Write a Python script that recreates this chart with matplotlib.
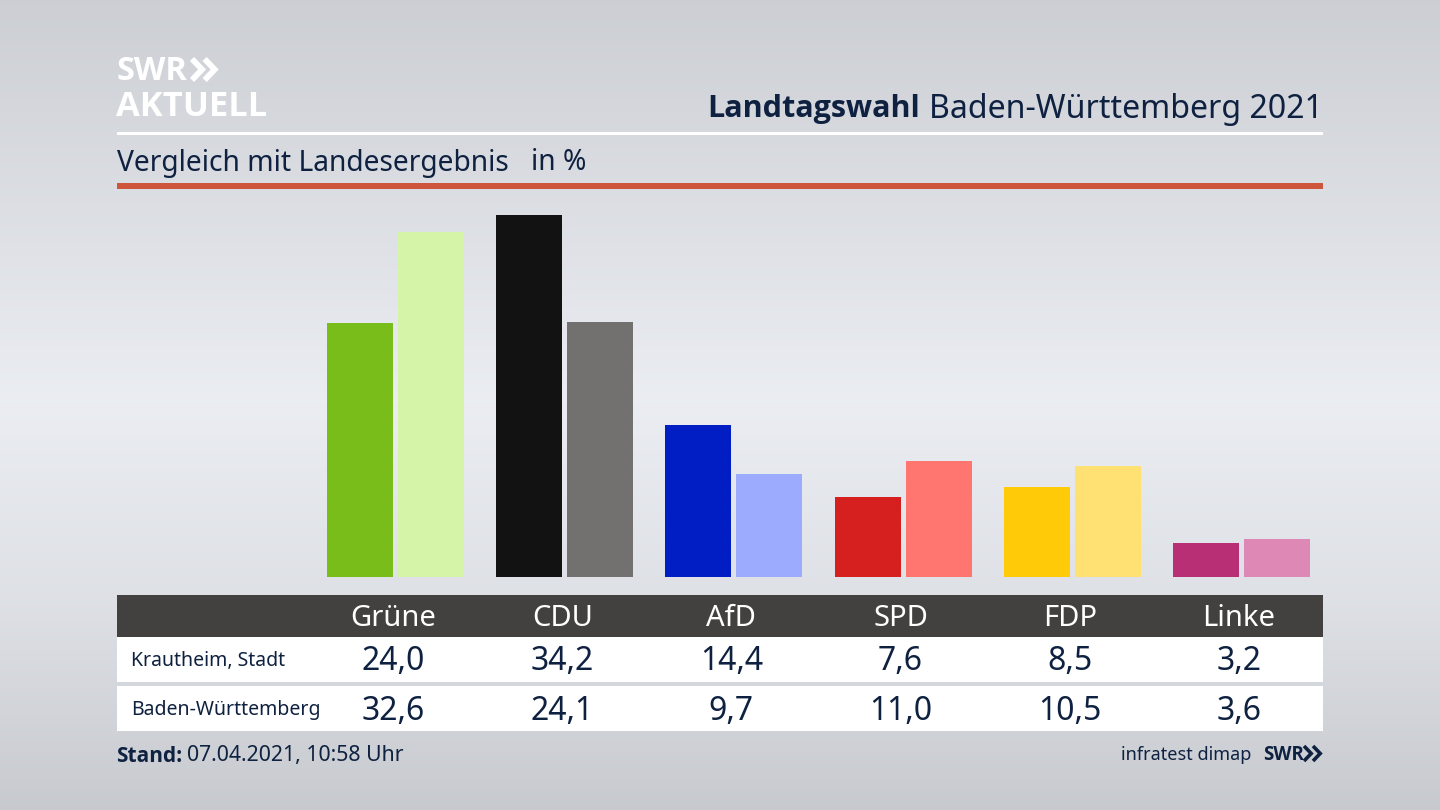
import numpy as np
import matplotlib
matplotlib.use('Agg')
import matplotlib.pyplot as plt
from matplotlib.patches import Rectangle

parties = ['Grüne', 'CDU', 'AfD', 'SPD', 'FDP', 'Linke']
krautheim = [24.0, 34.2, 14.4, 7.6, 8.5, 3.2]
land = [32.6, 24.1, 9.7, 11.0, 10.5, 3.6]
colors_dark = ['#78bd1a', '#121212', '#001ec3', '#d61f1f', '#ffcb08', '#b92f75']
colors_light = ['#d5f4a8', '#72716f', '#9dabff', '#ff7570', '#ffe173', '#de88b6']
row_names = ['Krautheim, Stadt', 'Baden-Württemberg']

NAVY = '#0f2140'
BOLD = 'Open Sans'
plt.rcParams['font.family'] = ['Noto Sans', 'DejaVu Sans']

W, H = 1440, 810
fig = plt.figure(figsize=(W / 100, H / 100), dpi=100)

# background + everything that is not a bar, in pixel coords
bg = fig.add_axes([0, 0, 1, 1])
bg.set_xlim(0, W)
bg.set_ylim(H, 0)
bg.axis('off')
stops_y = [0, 200, 400, 600, 810]
stops_c = [0.80, 0.86, 0.92, 0.87, 0.78]
grad = np.interp(np.arange(H), stops_y, stops_c)
rgb = np.stack([grad, grad + 0.01, grad + 0.03], axis=1).clip(0, 1)[:, None, :]
bg.imshow(rgb, extent=[0, W, H, 0], aspect='auto', zorder=0)


def rect(x0, y0, x1, y1, color):
    bg.add_patch(Rectangle((x0, y0), x1 - x0, y1 - y0, fc=color, ec='none', zorder=1))


def chevrons(x, y, h, color, lw):
    # the two >> of the SWR logo
    for dx in (0, h * 0.6):
        bg.plot([x + dx, x + dx + h * 0.48, x + dx], [y, y + h / 2, y + h],
                color=color, lw=lw, solid_joinstyle='miter', solid_capstyle='butt', zorder=2)


# header
bg.text(117, 72, 'SWR', color='white', fontsize=23.5, fontweight='bold', family=BOLD,
        va='center', ha='left', zorder=2)
chevrons(192, 59, 21, 'white', 4.2)
bg.text(116, 107, 'AKTUELL', color='white', fontsize=24.8, fontweight='bold', family=BOLD,
        va='center', ha='left', zorder=2)

t = bg.text(1323, 109, 'Baden-Württemberg 2021', color=NAVY, fontsize=23.1, ha='right', va='center', zorder=2)
fig.canvas.draw()
ext = t.get_window_extent()
bg.text(ext.x0 - 9, 109, 'Landtagswahl', color=NAVY, fontsize=22, fontweight='bold', family=BOLD,
        ha='right', va='center', zorder=2)

rect(117, 132, 1323, 135, 'white')
bg.text(117, 163, 'Vergleich mit Landesergebnis', color=NAVY, fontsize=20.3, va='center', zorder=2)
bg.text(531, 163, 'in %', color=NAVY, fontsize=20.3, va='center', zorder=2)
rect(117, 183, 1323, 189, '#cc553c')

# bars
label_first, x_step = 393, 169.2
bar_w, bar_off = 66, 35.5
label_x = label_first + x_step * np.arange(len(parties))
centers = label_x + 2.5

top_px, base_px = 190, 577
ax = fig.add_axes([0, 1 - base_px / H, 1, (base_px - top_px) / H])
ax.patch.set_alpha(0)
ax.axis('off')
ax.set_xlim(0, W)
ax.set_ylim(0, (base_px - top_px) / 10.585)
ax.bar(centers - bar_off, krautheim, bar_w, color=colors_dark)
ax.bar(centers + bar_off, land, bar_w, color=colors_light)

# table
rect(117, 595, 1323, 637, '#42413f')
rect(117, 637, 1323, 682, 'white')
rect(117, 686, 1323, 731, 'white')

for c, p, a, b in zip(label_x, parties, krautheim, land):
    bg.text(c, 619, p, color='white', fontsize=21, ha='center', va='center', zorder=2)
    bg.text(c, 662, f'{a:.1f}'.replace('.', ','), color=NAVY, fontsize=23, ha='center', va='center', zorder=2)
    bg.text(c, 711, f'{b:.1f}'.replace('.', ','), color=NAVY, fontsize=23, ha='center', va='center', zorder=2)

bg.text(131, 661, row_names[0], color=NAVY, fontsize=14, va='center', zorder=2)
bg.text(131, 710, row_names[1], color=NAVY, fontsize=14, va='center', zorder=2)

# footer
bg.text(116, 756, 'Stand:', color=NAVY, fontsize=15, fontweight='bold', family=BOLD, va='center', zorder=2)
bg.text(187, 756, '07.04.2021, 10:58 Uhr', color=NAVY, fontsize=15.3, va='center', zorder=2)
bg.text(1251, 755, 'infratest dimap', color=NAVY, fontsize=13, ha='right', va='center', zorder=2)
bg.text(1263, 755, 'SWR', color=NAVY, fontsize=13.5, fontweight='bold', family=BOLD,
        ha='left', va='center', zorder=2)
chevrons(1304, 746, 15, NAVY, 2.6)

fig.savefig('out.png', dpi=100)
